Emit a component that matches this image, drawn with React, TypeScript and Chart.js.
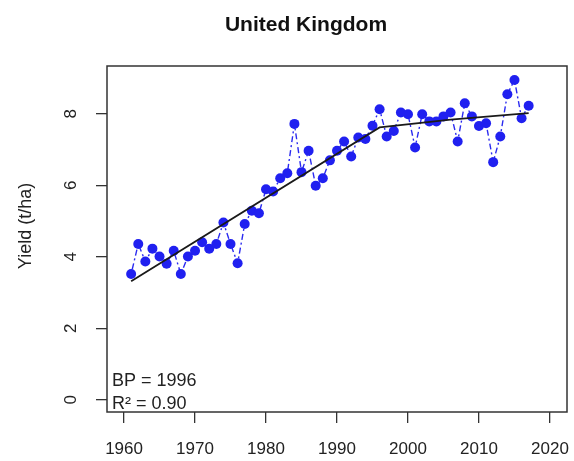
import React, { useEffect, useRef } from "react";
import { Chart, registerables } from "chart.js";

Chart.register(...registerables);

const years = [
  1961, 1962, 1963, 1964, 1965, 1966, 1967, 1968, 1969, 1970,
  1971, 1972, 1973, 1974, 1975, 1976, 1977, 1978, 1979, 1980,
  1981, 1982, 1983, 1984, 1985, 1986, 1987, 1988, 1989, 1990,
  1991, 1992, 1993, 1994, 1995, 1996, 1997, 1998, 1999, 2000,
  2001, 2002, 2003, 2004, 2005, 2006, 2007, 2008, 2009, 2010,
  2011, 2012, 2013, 2014, 2015, 2016, 2017,
];
const yields = [
  3.52, 4.36, 3.87, 4.23, 4.01, 3.81, 4.17, 3.52, 4.01, 4.17,
  4.41, 4.23, 4.36, 4.96, 4.36, 3.82, 4.92, 5.29, 5.22, 5.89,
  5.83, 6.2, 6.34, 7.72, 6.37, 6.97, 5.99, 6.2, 6.7, 6.97,
  7.23, 6.81, 7.34, 7.3, 7.67, 8.13, 7.37, 7.52, 8.04, 7.99,
  7.06, 7.99, 7.79, 7.79, 7.93, 8.04, 7.23, 8.3, 7.93, 7.66,
  7.74, 6.65, 7.37, 8.55, 8.95, 7.88, 8.23,
];
const fitYears = [1961, 1996, 2006, 2017];
const fitValues = [3.32, 7.62, 7.84, 8.02];
const xTicks = [1960, 1970, 1980, 1990, 2000, 2010, 2020];
const yTicks = [0, 2, 4, 6, 8];
const titleText = "United Kingdom";
const yTitle = "Yield (t/ha)";
const notes = ["BP = 1996", "R\u00B2 = 0.90"];

const FONT = "'Liberation Sans', Arial, sans-serif";

export default function App() {
  const ref = useRef<HTMLCanvasElement | null>(null);
  useEffect(() => {
    document.body.style.margin = "0";
    const canvas = ref.current!;
    const decor = {
      id: "decor",
      afterDraw(chart: any) {
        const ctx = chart.ctx;
        const a = chart.chartArea;
        ctx.save();
        ctx.strokeStyle = "#333";
        ctx.lineWidth = 1.5;
        ctx.strokeRect(a.left, a.top, a.right - a.left, a.bottom - a.top);
        ctx.fillStyle = "#111";
        ctx.font = `bold 21px ${FONT}`;
        ctx.textAlign = "center";
        ctx.textBaseline = "alphabetic";
        ctx.fillText(titleText, 306, 30.5);
        ctx.fillStyle = "#222";
        ctx.font = `17px ${FONT}`;
        const xs = chart.scales.x;
        xTicks.forEach((v) => {
          ctx.textAlign = "center";
          ctx.textBaseline = "middle";
          ctx.fillText(String(v), xs.getPixelForValue(v), 449);
        });
        const ys = chart.scales.y;
        yTicks.forEach((v) => {
          const py = ys.getPixelForValue(v);
          ctx.save();
          ctx.translate(71, py);
          ctx.rotate(-Math.PI / 2);
          ctx.textAlign = "center";
          ctx.textBaseline = "middle";
          ctx.fillText(String(v), 0, 0);
          ctx.restore();
        });
        ctx.save();
        ctx.font = `18px ${FONT}`;
        ctx.translate(26, 226);
        ctx.rotate(-Math.PI / 2);
        ctx.textAlign = "center";
        ctx.textBaseline = "middle";
        ctx.fillText(yTitle, 0, 0);
        ctx.restore();
        ctx.font = `18px ${FONT}`;
        ctx.textAlign = "left";
        ctx.textBaseline = "alphabetic";
        ctx.fillText(notes[0], 112, 386);
        ctx.fillText(notes[1], 112, 408.5);
        ctx.restore();
      },
    };
    const chart = new Chart(canvas, {
      type: "line",
      data: {
        datasets: [
          {
            label: "fit",
            data: fitYears.map((x, i) => ({ x, y: fitValues[i] })),
            borderColor: "#1a1a1a",
            borderWidth: 1.8,
            pointRadius: 0,
            fill: false,
            tension: 0,
            order: 0,
          },
          {
            label: "yield",
            data: years.map((x, i) => ({ x, y: yields[i] })),
            borderColor: "#2a2af0",
            borderWidth: 1.4,
            borderDash: [2, 3, 6, 3],
            pointRadius: 5,
            pointBackgroundColor: "#2020f0",
            pointBorderWidth: 0,
            fill: false,
            tension: 0,
            order: 1,
          },
        ],
      },
      options: {
        responsive: false,
        animation: false,
        devicePixelRatio: 1,
        layout: { padding: { top: 66, right: 7, left: 0, bottom: 0 } },
        plugins: {
          legend: { display: false },
          tooltip: { enabled: false },
          title: { display: false },
        },
        scales: {
          x: {
            type: "linear",
            min: 1957.6,
            max: 2022.4,
            afterBuildTicks: (axis: any) => {
              axis.ticks = xTicks.map((v) => ({ value: v }));
            },
            afterFit: (axis: any) => {
              axis.height = 49;
              axis.paddingLeft = 0;
              axis.paddingRight = 0;
            },
            border: { display: false },
            grid: {
              drawOnChartArea: false,
              drawTicks: true,
              tickLength: 11,
              color: "#333",
              lineWidth: 1.3,
            },
            ticks: { display: false },
          },
          y: {
            type: "linear",
            min: -0.34,
            max: 9.34,
            afterBuildTicks: (axis: any) => {
              axis.ticks = yTicks.map((v) => ({ value: v }));
            },
            afterFit: (axis: any) => {
              axis.width = 107;
              axis.paddingTop = 0;
              axis.paddingBottom = 0;
            },
            border: { display: false },
            grid: {
              drawOnChartArea: false,
              drawTicks: true,
              tickLength: 11,
              color: "#333",
              lineWidth: 1.3,
            },
            ticks: { display: false },
          },
        },
      },
      plugins: [decor],
    });
    return () => chart.destroy();
  }, []);
  return (
    <div style={{ width: 574, height: 461, background: "#fff" }}>
      <canvas ref={ref} width={574} height={461} style={{ display: "block" }} />
    </div>
  );
}
